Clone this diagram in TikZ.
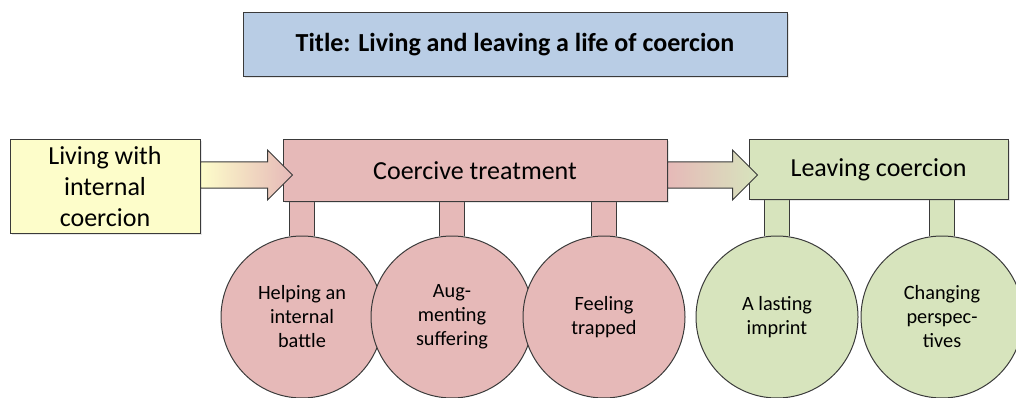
\documentclass[tikz,border=0pt]{standalone}
\usepackage{fontspec}
\setmainfont{Carlito}
\usepackage{xcolor}
\definecolor{vizTitle}{HTML}{B9CDE5}
\definecolor{vizLiving}{HTML}{FDFDCA}
\definecolor{vizCoerce}{HTML}{E6B9B8}
\definecolor{vizLeave}{HTML}{D7E4BD}
\definecolor{vizLine}{HTML}{3A3A3A}
\usetikzlibrary{calc,backgrounds,shadows}

\tikzset{
  box/.style={draw=vizLine, line width=1pt, inner sep=0pt, align=center,
    drop shadow={opacity=0.2, shadow xshift=1.5pt, shadow yshift=-1.5pt},
    font=\fontsize{26}{31}\selectfont},
  theme/.style={circle, draw=vizLine, line width=1pt, minimum size=162pt,
    inner sep=0pt, align=center, font=\fontsize{20.3}{24}\selectfont},
  stemline/.style={draw=vizLine, line width=1pt, double distance=24pt},
  flow/.style={draw=vizLine, line width=1pt}
}

\begin{document}
\begin{tikzpicture}[x=1pt, y=-1pt]
  \useasboundingbox (0,0) rectangle (1016,398);
  % title
  \node[box, fill=vizTitle, minimum width=544pt, minimum height=64pt,
    font=\bfseries\fontsize{26}{30}\selectfont] (title) at (515,45)
    {Title: Living and leaving a life of coercion};
  % main row
  \node[box, fill=vizLiving, minimum width=190pt, minimum height=93pt] (living) at (105,186.5) {Living with\\internal\\coercion};
  \node[box, fill=vizCoerce, minimum width=384pt, minimum height=61pt] (coerce) at (475,170.5) {Coercive treatment};
  \node[box, fill=vizLeave, minimum width=259pt, minimum height=59pt] (leave) at (878.5,169.5) {Leaving coercion};
  % themes
  \node[theme, fill=vizCoerce] (battle) at (302,317) {Helping an\\internal\\battle};
  \node[theme, fill=vizCoerce] (suffer) at (452,317) {Aug-\\menting\\suffering};
  \node[theme, fill=vizCoerce] (trapped) at (604,317) {Feeling\\trapped};
  \node[theme, fill=vizLeave] (imprint) at (777,317) {A lasting\\imprint};
  \node[theme, fill=vizLeave] (persp) at (942,317) {Changing\\perspec-\\tives};
  % stems
  \begin{scope}[on background layer]
    \draw[stemline, double=vizCoerce] (coerce.south -| battle) -- (battle.north);
    \draw[stemline, double=vizCoerce] (coerce.south -| suffer) -- (suffer.north);
    \draw[stemline, double=vizCoerce] (coerce.south -| trapped) -- (trapped.north);
    \draw[stemline, double=vizLeave] (leave.south -| imprint) -- (imprint.north);
    \draw[stemline, double=vizLeave] (leave.south -| persp) -- (persp.north);
  \end{scope}
  % arrows
  \shade[flow, left color=vizLiving, right color=vizCoerce]
    ($(living.east |- coerce.west)+(0,-8.5)$) -- ($(coerce.west)+(-15,-8.5)$)
    -- ($(coerce.west)+(-15,-20.5)$) -- ($(coerce.west)+(10,4.5)$)
    -- ($(coerce.west)+(-15,29.5)$) -- ($(coerce.west)+(-15,17.5)$)
    -- ($(living.east |- coerce.west)+(0,17.5)$) -- cycle;
  \shade[flow, left color=vizCoerce, right color=vizLeave]
    ($(coerce.east)+(0,-8.5)$) -- ($(leave.west)+(-16,-7.5)$)
    -- ($(leave.west)+(-16,-19.5)$) -- ($(leave.west)+(9,5.5)$)
    -- ($(leave.west)+(-16,30.5)$) -- ($(leave.west)+(-16,18.5)$)
    -- ($(coerce.east)+(0,17.5)$) -- cycle;
\end{tikzpicture}
\end{document}
